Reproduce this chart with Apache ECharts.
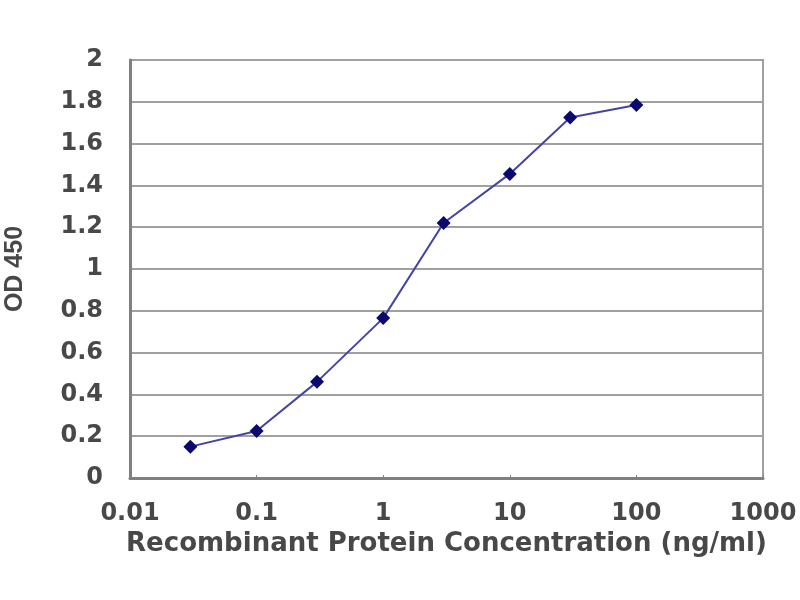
<!DOCTYPE html>
<html>
<head>
<meta charset="utf-8">
<script src="https://cdn.jsdelivr.net/npm/echarts@6/dist/echarts.min.js"></script>
<style>html,body{margin:0;padding:0;background:#fff}#main{width:800px;height:600px}</style>
</head>
<body>
<div id="main"></div>
<script>
var concentrations = [0.03, 0.1, 0.3, 1, 3, 10, 30, 100];
var odValues = [0.15, 0.225, 0.46, 0.765, 1.22, 1.455, 1.725, 1.785];
var xTitle = 'Recombinant Protein Concentration (ng/ml)';
var yTitle = 'OD 450';

var seriesData = concentrations.map(function (c, i) { return [c, odValues[i]]; });

var labelFont = { fontFamily: 'DejaVu Sans', fontWeight: 'bold', fontSize: 24, color: '#484848' };

var option = {
    backgroundColor: '#fff',
    animation: false,
    grid: { left: 130, right: 37, top: 60, bottom: 122, containLabel: false, outerBoundsMode: 'none' },
    xAxis: {
        type: 'log',
        logBase: 10,
        min: 0.01,
        max: 1000,
        name: xTitle,
        nameLocation: 'middle',
        nameGap: 52,
        nameTextStyle: { fontFamily: 'DejaVu Sans', fontWeight: 'bold', fontSize: 26, color: '#484848' },
        axisLine: { lineStyle: { color: '#808080', width: 3 } },
        axisTick: { show: true, inside: true, length: 3, lineStyle: { color: '#808080' } },
        axisLabel: Object.assign({
            margin: 24,
            formatter: function (v) { return String(+v.toPrecision(6)); }
        }, labelFont),
        splitLine: { show: false }
    },
    yAxis: {
        type: 'value',
        min: 0,
        max: 2,
        interval: 0.2,
        name: yTitle,
        nameLocation: 'middle',
        nameGap: 102,
        nameTextStyle: { fontFamily: 'Liberation Sans', fontWeight: 'bold', fontSize: 25, color: '#484848' },
        axisLine: { show: true, lineStyle: { color: '#808080', width: 3 } },
        axisTick: { show: false },
        axisLabel: Object.assign({
            margin: 27,
            formatter: function (v) { return String(+v.toFixed(1)); }
        }, labelFont),
        splitLine: { show: true, lineStyle: { color: '#a0a0a0', width: 2 } }
    },
    series: [{
        type: 'line',
        data: seriesData,
        symbol: 'diamond',
        symbolSize: 14,
        itemStyle: { color: '#0a0a6e' },
        lineStyle: { color: '#4444a4', width: 2 }
    }],
    graphic: [{
        type: 'rect',
        shape: { x: 130, y: 60, width: 633, height: 418 },
        style: { fill: 'none', stroke: '#a0a0a0', lineWidth: 2 },
        z: -1
    }]
};

var myChart = echarts.init(document.getElementById('main'));
myChart.setOption(option, true);
</script>
</body>
</html>
